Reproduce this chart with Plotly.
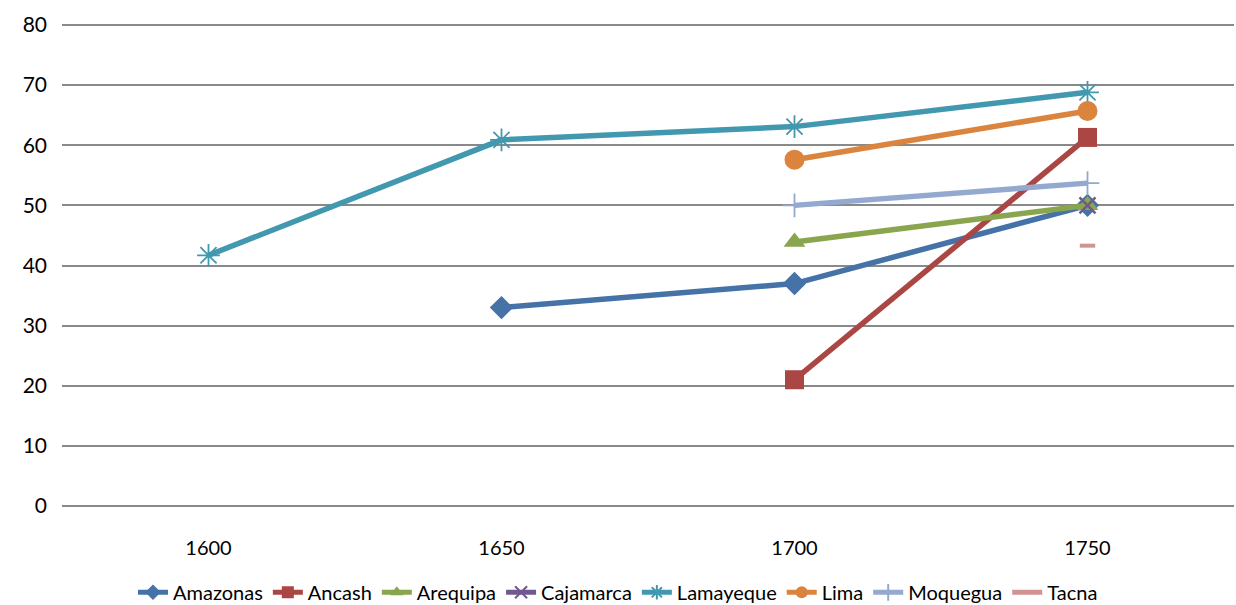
import plotly.graph_objects as go

# Categories along the x axis
years = ["1600", "1650", "1700", "1750"]

# Series values (None where a region has no value)
amazonas = [None, 33.0, 37.0, 50.0]
ancash = [None, None, 21.0, 61.3]
arequipa = [None, None, 43.9, 50.0]
cajamarca = [None, None, None, 50.0]
lamayeque = [41.7, 60.9, 63.1, 68.8]
lima = [None, None, 57.6, 65.7]
moquegua = [None, None, 50.0, 53.7]
tacna = [None, None, None, 43.3]

series = [
    ("Amazonas", amazonas, "#4572A7", "diamond", 18, 0),
    ("Ancash", ancash, "#AA4643", "square", 19, 0),
    ("Arequipa", arequipa, "#89A54E", "triangle-up", 19, 0),
    ("Cajamarca", cajamarca, "#71588F", "x-thin-open", 16, 2.5),
    ("Lamayeque", lamayeque, "#4198AF", "asterisk-open", 19, 1.8),
    ("Lima", lima, "#DB843D", "circle", 20, 0),
    ("Moquegua", moquegua, "#93A9CF", "cross-thin-open", 17, 1.8),
    ("Tacna", tacna, "#D19392", "line-ew-open", 11, 4),
]

fig = go.Figure()
for name, vals, color, symbol, size, mlw in series:
    fig.add_trace(go.Scatter(
        x=years, y=vals, name=name, mode="lines+markers",
        line=dict(color=color, width=5.5),
        marker=dict(symbol=symbol, size=size, color=color,
                    line=dict(color=color, width=mlw)),
        connectgaps=False,
    ))

font_family = "Lato, 'Open Sans', sans-serif"
fig.update_layout(
    width=1236, height=605,
    margin=dict(l=62, r=2, t=21, b=95, autoexpand=False),
    paper_bgcolor="white", plot_bgcolor="white",
    font=dict(family=font_family, color="#000000", size=19),
    showlegend=True,
    legend=dict(orientation="h", x=0.5, xanchor="center",
                xref="container", yref="container", y=0.021, yanchor="middle",
                font=dict(size=20), tracegroupgap=0, itemsizing="constant"),
    xaxis=dict(type="category", range=[-0.5, 3.5], showgrid=False, zeroline=False,
               showline=False, ticks="", ticklabelstandoff=24, tickfont=dict(size=20)),
    yaxis=dict(range=[-0.665, 80.665], dtick=10, showgrid=True, gridcolor="#898989",
               gridwidth=2, zeroline=False, showline=False, ticks="",
               ticklabelstandoff=14, tickfont=dict(size=21)),
)

fig.write_html("out.html")
